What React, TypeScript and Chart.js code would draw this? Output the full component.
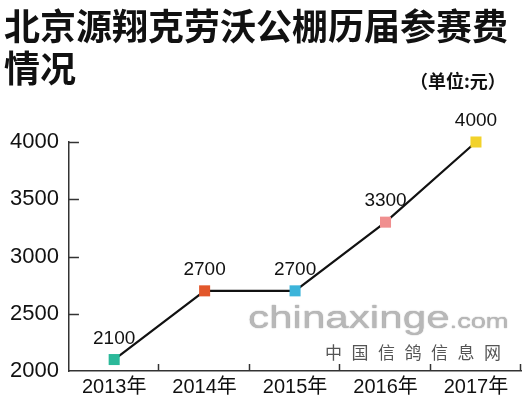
import React, { useEffect, useRef } from "react";
import { Chart, registerables } from "chart.js";

Chart.register(...registerables);

const categories = ["2013年", "2014年", "2015年", "2016年", "2017年"];
const fees = [2100, 2700, 2700, 3300, 4000];
const pointColors = ["#2bb99a", "#e2572b", "#3cb4da", "#f08f8f", "#f2d22a"];
const yMin = 2000;
const yMax = 4000;
const yStep = 500;
const titleLines = ["北京源翔克劳沃公棚历届参赛费", "情况"];
const unitLabel = "（单位:元）";

const NUM_FONT = "'Liberation Sans', Arial, 'Noto Sans CJK SC', sans-serif";
const CJK_FONT = "'Noto Sans CJK SC', 'Liberation Sans', sans-serif";

const innerTicksAndLabels = {
  id: "innerTicksAndLabels",
  afterDatasetsDraw(chart: any) {
    const { ctx, chartArea, scales } = chart;
    const xs = scales.x;
    const ys = scales.y;
    ctx.save();
    ctx.strokeStyle = "#333";
    ctx.lineWidth = 1.5;
    for (let v = yMin + yStep; v <= yMax; v += yStep) {
      const y = Math.round(ys.getPixelForValue(v)) + 0.5;
      ctx.beginPath();
      ctx.moveTo(chartArea.left, y);
      ctx.lineTo(chartArea.left + 10, y);
      ctx.stroke();
    }
    const half = (xs.getPixelForValue(1) - xs.getPixelForValue(0)) / 2;
    for (let i = 0; i < categories.length; i++) {
      const x = Math.round(xs.getPixelForValue(i) + half) - 0.5;
      ctx.beginPath();
      ctx.moveTo(x, chartArea.bottom);
      ctx.lineTo(x, chartArea.bottom - 7);
      ctx.stroke();
    }
    const meta = chart.getDatasetMeta(0);
    ctx.fillStyle = "#111";
    ctx.font = `19px ${NUM_FONT}`;
    ctx.textAlign = "center";
    ctx.textBaseline = "middle";
    meta.data.forEach((pt: any, i: number) => {
      ctx.fillText(String(fees[i]), pt.x, pt.y - 21);
    });
    ctx.restore();
  },
};

export default function App() {
  const canvasRef = useRef<HTMLCanvasElement | null>(null);

  useEffect(() => {
    const canvas = canvasRef.current;
    if (!canvas) return;
    const chart = new Chart(canvas, {
      type: "line",
      data: {
        labels: categories,
        datasets: [
          {
            data: fees,
            borderColor: "#111",
            borderWidth: 2.2,
            pointStyle: "rect",
            pointRadius: 7.8,
            pointBorderWidth: 0,
            pointBackgroundColor: pointColors,
            pointBorderColor: pointColors,
            tension: 0,
            clip: false as any,
          },
        ],
      },
      options: {
        animation: false,
        responsive: false,
        maintainAspectRatio: false,
        layout: { padding: { top: 142, left: 0, right: 6, bottom: 5 } },
        plugins: {
          legend: { display: false },
          tooltip: { enabled: false },
          title: { display: false },
        },
        scales: {
          x: {
            offset: true,
            grid: { display: false, drawTicks: false },
            border: { display: true, color: "#333", width: 1.5 },
            ticks: {
              color: "#111",
              padding: 4,
              font: { size: 20, family: NUM_FONT },
              maxRotation: 0,
              autoSkip: false,
            },
          },
          y: {
            min: yMin,
            max: yMax,
            grid: { display: false, drawTicks: false },
            border: { display: true, color: "#333", width: 1.5 },
            ticks: {
              stepSize: yStep,
              color: "#111",
              padding: 10,
              font: { size: 22, family: NUM_FONT },
              callback: (v: any) => String(v),
            },
          },
        },
      },
      plugins: [innerTicksAndLabels],
    });
    return () => chart.destroy();
  }, []);

  return (
    <div
      style={{
        position: "absolute",
        left: 0,
        top: 0,
        width: 529,
        height: 408,
        background: "#fff",
        overflow: "hidden",
      }}
    >
      <canvas ref={canvasRef} width={529} height={408} style={{ position: "absolute", left: 0, top: 0 }} />
      <div
        style={{
          position: "absolute",
          left: 4,
          top: 3,
          fontFamily: CJK_FONT,
          fontWeight: 700,
          fontSize: 36,
          lineHeight: "42px",
          color: "#111",
          whiteSpace: "nowrap",
        }}
      >
        {titleLines.map((t) => (
          <div key={t}>{t}</div>
        ))}
      </div>
      <div
        style={{
          position: "absolute",
          left: 410,
          top: 68,
          fontFamily: CJK_FONT,
          fontWeight: 700,
          fontSize: 18,
          lineHeight: "24px",
          color: "#111",
          whiteSpace: "nowrap",
        }}
      >
        {unitLabel}
      </div>
      <div
        style={{
          position: "absolute",
          left: 248,
          top: 300,
          fontFamily: NUM_FONT,
          fontSize: 31,
          lineHeight: "36px",
          color: "#b8b8b8",
          whiteSpace: "nowrap",
          transform: "scaleX(1.36)",
          transformOrigin: "left top",
          textShadow: "0 0 1px #888",
        }}
      >
        chinaxinge<span style={{ fontSize: 20 }}>.com</span>
      </div>
      <div
        style={{
          position: "absolute",
          left: 325,
          top: 341,
          fontFamily: CJK_FONT,
          fontSize: 17,
          lineHeight: "22px",
          letterSpacing: "9.5px",
          color: "#555",
          whiteSpace: "nowrap",
        }}
      >
        中国信鸽信息网
      </div>
    </div>
  );
}
